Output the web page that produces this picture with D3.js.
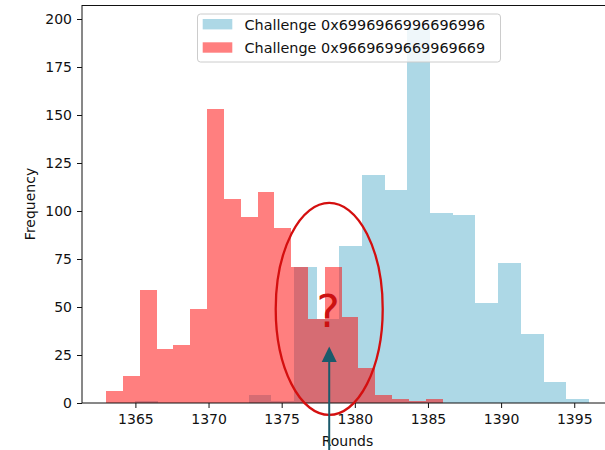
<!DOCTYPE html>
<html>
<head>
<meta charset="utf-8">
<script src="https://cdn.jsdelivr.net/npm/d3@7"></script>
<style>
  html, body { margin: 0; padding: 0; background: #fff; }
  svg { display: block; font-family: "DejaVu Sans", sans-serif; }
</style>
</head>
<body>
<svg id="chart" width="605" height="450"></svg>
<script>
// Histogram counts per bin (20 equal-width bins per challenge)
const blueLabel = "Challenge 0x6996966996696996";
const redLabel = "Challenge 0x9669699669969669";
const blueRange = [1365, 1396];
const redRange = [1363, 1386];
const blueCounts = [1, 0, 0, 0, 0, 4, 1, 71, 44, 82, 119, 111, 196, 99, 98, 52, 73, 36, 11, 2];
const redCounts = [6, 14, 59, 28, 30, 49, 153, 106, 97, 110, 91, 71, 44, 71, 45, 18, 4, 2, 1, 2];
const xTicks = [1365, 1370, 1375, 1380, 1385, 1390, 1395];
const yTicks = [0, 25, 50, 75, 100, 125, 150, 175, 200];
const xDomain = [1361.35, 1397.65];
const yDomain = [0, 207.3];
const highlightCenter = [1378.25, 49]; // rounds, frequency at ellipse centre

const svg = d3.select("#chart");
const plotLeft = 82, plotRight = 613, plotTop = 5, plotBottom = 403;

const x = d3.scaleLinear().domain(xDomain).range([plotLeft, plotRight]);
const y = d3.scaleLinear().domain(yDomain).range([plotBottom, plotTop]);

function binsFrom(range, counts) {
  const w = (range[1] - range[0]) / counts.length;
  return counts.map((c, i) => ({ x0: range[0] + i * w, x1: range[0] + (i + 1) * w, c }));
}

const plot = svg.append("g");

plot.selectAll("rect.blue")
  .data(binsFrom(blueRange, blueCounts))
  .join("rect")
  .attr("class", "blue")
  .attr("x", d => x(d.x0))
  .attr("width", d => x(d.x1) - x(d.x0))
  .attr("y", d => y(d.c))
  .attr("height", d => y(0) - y(d.c))
  .attr("fill", "#add8e6")
  .attr("shape-rendering", "crispEdges");

plot.selectAll("rect.red")
  .data(binsFrom(redRange, redCounts))
  .join("rect")
  .attr("class", "red")
  .attr("x", d => x(d.x0))
  .attr("width", d => x(d.x1) - x(d.x0))
  .attr("y", d => y(d.c))
  .attr("height", d => y(0) - y(d.c))
  .attr("fill", "#ff0000")
  .attr("fill-opacity", 0.5)
  .attr("shape-rendering", "crispEdges");

// Axes
const fmt = d3.format("d");
const xAxis = d3.axisBottom(x).tickValues(xTicks).tickFormat(fmt).tickSize(5).tickPadding(5).tickSizeOuter(0);
const yAxis = d3.axisLeft(y).tickValues(yTicks).tickFormat(fmt).tickSize(5).tickPadding(5).tickSizeOuter(0);

const gx = svg.append("g").attr("transform", `translate(0,${plotBottom})`).call(xAxis);
const gy = svg.append("g").attr("transform", `translate(${plotLeft},0)`).call(yAxis);
[gx, gy].forEach(g => {
  g.selectAll("text").attr("font-size", 14).attr("fill", "#111").attr("font-family", "DejaVu Sans");
  g.selectAll("line").attr("stroke", "#111");
  g.select(".domain").attr("stroke", "#111");
});
gx.selectAll("text").attr("dy", "0.8em");
gy.select(".domain").attr("d", `M0,${plotTop}V${plotBottom}`);
gx.select(".domain").attr("d", `M${plotLeft},0H${plotRight}`);

// top spine
svg.append("line")
  .attr("x1", plotLeft).attr("x2", plotRight)
  .attr("y1", plotTop + 0.5).attr("y2", plotTop + 0.5)
  .attr("stroke", "#111");

// Axis titles
svg.append("text")
  .attr("x", (plotLeft + plotRight) / 2).attr("y", 446)
  .attr("text-anchor", "middle")
  .attr("font-size", 14).attr("fill", "#111")
  .text("Rounds");
svg.append("text")
  .attr("transform", `translate(35,${(plotTop + plotBottom) / 2}) rotate(-90)`)
  .attr("text-anchor", "middle")
  .attr("font-size", 14).attr("fill", "#111")
  .text("Frequency");

// Highlighted overlap region
const cx = x(highlightCenter[0]), cy = y(highlightCenter[1]);
svg.append("ellipse")
  .attr("cx", cx).attr("cy", cy)
  .attr("rx", 53.5).attr("ry", 106)
  .attr("fill", "none")
  .attr("stroke", "#d40f0f")
  .attr("stroke-width", 2.3);

svg.append("text")
  .attr("x", cx - 1).attr("y", cy + 18)
  .attr("text-anchor", "middle")
  .attr("font-size", 44)
  .attr("fill", "#cc1111")
  .text("?");

// Arrow pointing up into the overlap
const arrowColor = "#1b5a6b";
svg.append("line")
  .attr("x1", cx).attr("x2", cx)
  .attr("y1", 450).attr("y2", cy + 52)
  .attr("stroke", arrowColor)
  .attr("stroke-width", 2);
svg.append("path")
  .attr("d", `M${cx},${cy + 37.5}L${cx - 7.5},${cy + 53}L${cx + 7.5},${cy + 53}Z`)
  .attr("fill", arrowColor);

// Legend
const legend = svg.append("g");
legend.append("rect")
  .attr("x", 197.5).attr("y", 14).attr("width", 303).attr("height", 48)
  .attr("rx", 3)
  .attr("fill", "#fff").attr("fill-opacity", 0.8)
  .attr("stroke", "#cccccc");
[[blueLabel, "#add8e6", 1], [redLabel, "#ff0000", 0.5]].forEach((e, i) => {
  const yy = 19 + i * 23.3;
  legend.append("rect")
    .attr("x", 202.7).attr("y", yy).attr("width", 29.6).attr("height", 10.4)
    .attr("fill", e[1]).attr("fill-opacity", e[2]);
  legend.append("text")
    .attr("x", 244.5).attr("y", yy + 10.5)
    .attr("font-size", 14.4).attr("fill", "#111")
    .text(e[0]);
});
</script>
</body>
</html>
